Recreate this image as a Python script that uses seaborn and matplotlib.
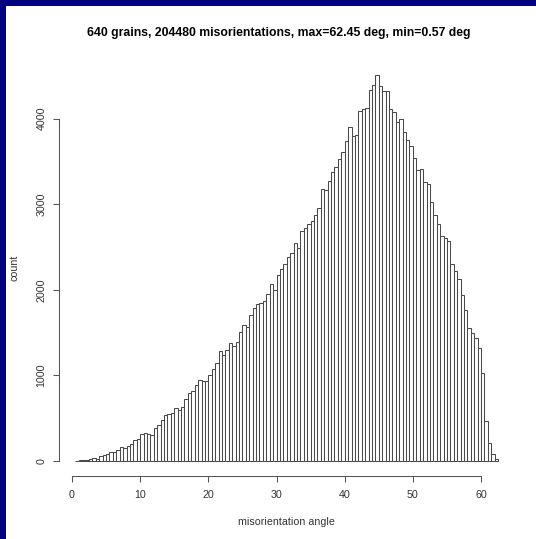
import matplotlib
matplotlib.use("Agg")
import matplotlib.pyplot as plt
from matplotlib.patches import Rectangle
import numpy as np
import pandas as pd
import seaborn as sns

sns.set_theme(style="white")
plt.rcParams["font.family"] = ["Liberation Sans", "DejaVu Sans"]

# -----------------------
# DATA (0.5 deg bins from 0.5 to 62.5)
# -----------------------
bin_start = 0.5
bin_width = 0.5
counts = [
    4, 10, 14, 16, 22, 38, 28, 56, 66, 82,
    104, 106, 132, 163, 150, 180, 202, 248, 254, 314,
    328, 320, 300, 381, 416, 474, 533, 544, 564, 614,
    600, 626, 723, 797, 820, 890, 945, 937, 935, 1000,
    1073, 1150, 1279, 1232, 1294, 1380, 1340, 1385, 1508, 1594,
    1566, 1703, 1792, 1839, 1850, 1866, 1955, 2068, 2002, 2177,
    2243, 2300, 2382, 2432, 2550, 2491, 2686, 2725, 2771, 2800,
    2869, 2958, 3176, 3160, 3276, 3373, 3440, 3530, 3615, 3743,
    3906, 3801, 3813, 4093, 4111, 4120, 4333, 4396, 4512, 4384,
    4318, 4326, 4111, 4080, 3956, 3995, 3847, 3750, 3684, 3540,
    3404, 3410, 3257, 3230, 3024, 2868, 2763, 2623, 2610, 2565,
    2297, 2215, 2126, 1943, 1768, 1558, 1500, 1442, 1325, 1030,
    470, 206, 78, 20,
]
x_ticks = [0, 10, 20, 30, 40, 50, 60]
y_ticks = [0, 1000, 2000, 3000, 4000]
title = "640 grains, 204480 misorientations, max=62.45 deg, min=0.57 deg"

edges = [bin_start + bin_width * i for i in range(len(counts) + 1)]
df = pd.DataFrame({
    "angle": [(edges[i] + edges[i + 1]) / 2 for i in range(len(counts))],
    "count": counts,
})

# -----------------------
# FIGURE SETUP
# -----------------------
W, H = 536, 539
fig = plt.figure(figsize=(W / 100, H / 100), dpi=100)
fig.patch.set_facecolor("#000080")
fig.add_artist(Rectangle((6 / W, 0), 1, 1 - 6 / H, transform=fig.transFigure,
                         facecolor="white", edgecolor="none", zorder=-1))

# plot region in pixels (R style, 4% padding around data range)
x0, x1 = 58.5, 515.0
y_top, y_bot = 59.3, 476.4
ax = fig.add_axes([x0 / W, 1 - y_bot / H, (x1 - x0) / W, (y_bot - y_top) / H])
ax.patch.set_alpha(0)

sns.histplot(data=df, x="angle", weights="count", bins=edges,
             color="white", edgecolor="#4a4a4a", linewidth=0.75, alpha=1,
             ax=ax)

xr = edges[-1] - edges[0]
ymax = max(counts)
ax.set_xlim(edges[0] - 0.04 * xr, edges[-1] + 0.04 * xr)
ax.set_ylim(-0.04 * ymax, 1.04 * ymax)

# -----------------------
# AXES (R-like)
# -----------------------
for side in ["top", "right"]:
    ax.spines[side].set_visible(False)
for side in ["bottom", "left"]:
    ax.spines[side].set_color("#555555")
    ax.spines[side].set_linewidth(0.75)
ax.spines["bottom"].set_bounds(x_ticks[0], x_ticks[-1])
ax.spines["left"].set_bounds(y_ticks[0], y_ticks[-1])

ax.set_xticks(x_ticks)
ax.set_yticks(y_ticks)
ax.tick_params(axis="both", direction="out", length=4.5, width=0.75,
               color="#555555", labelsize=7.7, labelcolor="#333333",
               bottom=True, left=True)
ax.tick_params(axis="x", pad=5.5)
ax.tick_params(axis="y", pad=4)
plt.setp(ax.get_yticklabels(), rotation=90, va="center")
ax.set_xlabel("")
ax.set_ylabel("")
ax.grid(False)

# -----------------------
# Labels
# -----------------------
fig.text(286.7 / W, 1 - 521.7 / H, "misorientation angle",
         ha="center", va="center", fontsize=7.7, color="#333333")
fig.text(14 / W, 1 - 267.9 / H, "count", rotation=90,
         ha="center", va="center", fontsize=7.7, color="#333333")
fig.text(279 / W, 1 - 33.3 / H, title, ha="center", va="center",
         fontsize=8.8, fontweight="bold", color="black")

fig.savefig("out.png", dpi=100, facecolor=fig.get_facecolor())
